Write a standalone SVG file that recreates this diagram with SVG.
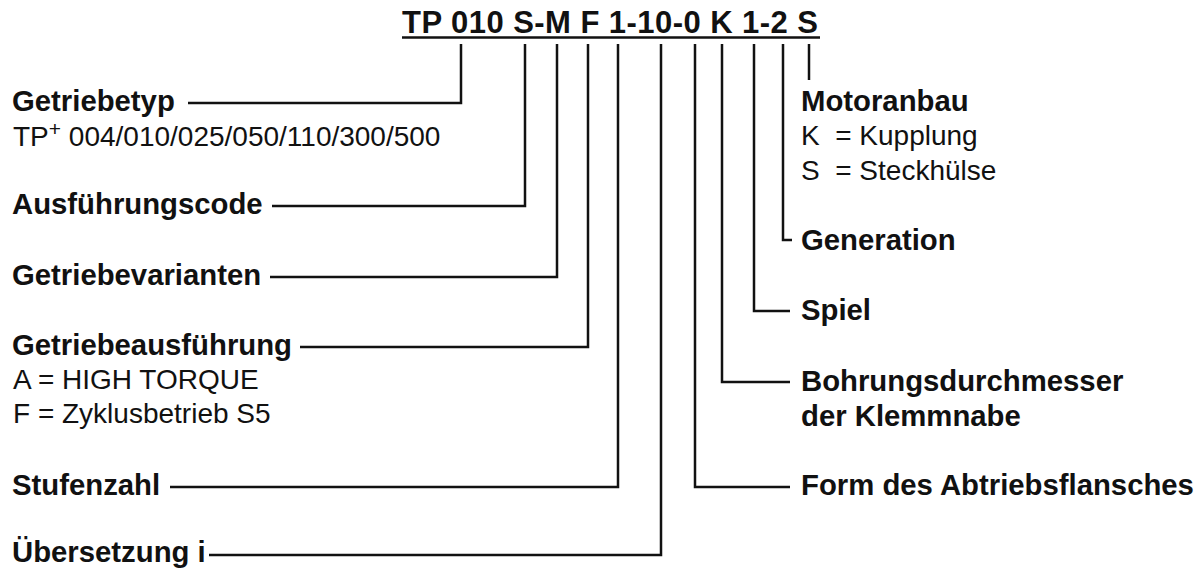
<svg xmlns="http://www.w3.org/2000/svg" width="1199" height="571" viewBox="0 0 1199 571">
<style>
text{font-family:"Liberation Sans",Arial,sans-serif;fill:#111;font-size:28px}
.b{font-weight:bold;font-size:29.3px}
.ln{fill:none;stroke:#111;stroke-width:2.5;stroke-linejoin:miter;stroke-linecap:butt}
</style>
<rect width="1199" height="571" fill="#fff"/>
<g id="title">
<text class="b" x="402" y="33" style="font-size:31px" textLength="416" lengthAdjust="spacing">TP 010 S-M F 1-10-0 K 1-2 S</text>
<line class="ln" x1="402" y1="37.5" x2="820" y2="37.5"/>
</g>
<g id="connectors">
<polyline class="ln" points="188,103 461,103 461,44"/>
<polyline class="ln" points="272,206 525,206 525,44"/>
<polyline class="ln" points="270,277 557,277 557,44"/>
<polyline class="ln" points="300,347 588,347 588,44"/>
<polyline class="ln" points="170,487 618,487 618,44"/>
<polyline class="ln" points="209,555 661,555 661,44"/>
<polyline class="ln" points="790,487 695,487 695,44"/>
<polyline class="ln" points="790,382 722,382 722,44"/>
<polyline class="ln" points="790,311 754,311 754,44"/>
<polyline class="ln" points="792,240 783,240 783,44"/>
<line class="ln" x1="809" y1="44" x2="809" y2="80"/>
</g>
<g id="getriebetyp">
<text class="b" x="12" y="111">Getriebetyp</text>
<text x="13" y="146">TP<tspan font-size="21" dy="-10">+</tspan><tspan dy="10"> 004/010/025/050/110/300/500</tspan></text>
</g>
<g id="ausfuehrungscode"><text class="b" x="12" y="214">Ausführungscode</text></g>
<g id="getriebevarianten"><text class="b" x="12" y="285">Getriebevarianten</text></g>
<g id="getriebeausfuehrung">
<text class="b" x="12" y="355">Getriebeausführung</text>
<text x="13" y="389">A = HIGH TORQUE</text>
<text x="13" y="423">F = Zyklusbetrieb S5</text>
</g>
<g id="stufenzahl"><text class="b" x="12" y="495">Stufenzahl</text></g>
<g id="uebersetzung"><text class="b" x="12" y="562">Übersetzung i</text></g>
<g id="motoranbau">
<text class="b" x="801" y="111">Motoranbau</text>
<text x="801" y="145" xml:space="preserve">K  = Kupplung</text>
<text x="801" y="180" xml:space="preserve">S  = Steckhülse</text>
</g>
<g id="generation"><text class="b" x="801" y="250">Generation</text></g>
<g id="spiel"><text class="b" x="801" y="320">Spiel</text></g>
<g id="bohrung">
<text class="b" x="801" y="391">Bohrungsdurchmesser</text>
<text class="b" x="801" y="426">der Klemmnabe</text>
</g>
<g id="form"><text class="b" x="801" y="495">Form des Abtriebsflansches</text></g>
</svg>
